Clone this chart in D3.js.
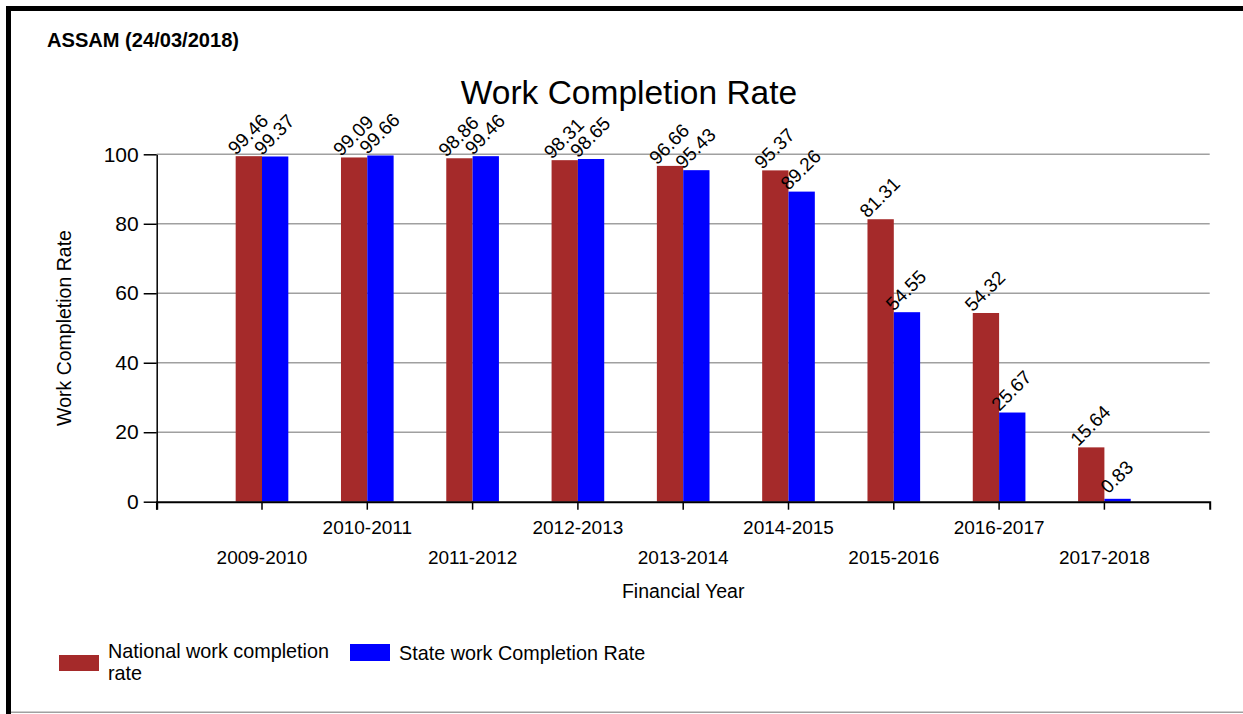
<!DOCTYPE html>
<html>
<head>
<meta charset="utf-8">
<title>Work Completion Rate</title>
<script src="https://d3js.org/d3.v7.min.js"></script>
<style>
  body { margin: 0; background: #fff; }
  svg { display: block; font-family: "Liberation Sans", Arial, sans-serif; }
</style>
</head>
<body>
<div id="chart"></div>
<script>
// data
var years = ["2009-2010", "2010-2011", "2011-2012", "2012-2013", "2013-2014",
             "2014-2015", "2015-2016", "2016-2017", "2017-2018"];
var national = [99.46, 99.09, 98.86, 98.31, 96.66, 95.37, 81.31, 54.32, 15.64];
var state = [99.37, 99.66, 99.46, 98.65, 95.43, 89.26, 54.55, 25.67, 0.83];
var yTicks = [0, 20, 40, 60, 80, 100];
var seriesNames = ["National work completion rate", "State work Completion Rate"];
var colors = ["#a52a2a", "#0000ff"];

var W = 1243, H = 714;
var margin = { left: 156.7, right: 33.3, top: 154.3, bottom: 212.3 };
var width = W - margin.left - margin.right,
    height = H - margin.top - margin.bottom;

var svg = d3.select("#chart").append("svg")
    .attr("width", W)
    .attr("height", H);

// frame: thick black top and left, thin grey bottom
svg.append("rect").attr("x", 6).attr("y", 6).attr("width", W - 6).attr("height", 5).attr("fill", "#000");
svg.append("rect").attr("x", 6).attr("y", 6).attr("width", 5).attr("height", H - 6).attr("fill", "#000");
svg.append("rect").attr("x", 11).attr("y", 711.5).attr("width", W - 11).attr("height", 1.5).attr("fill", "#a0a0a0");

svg.append("text")
    .attr("x", 47).attr("y", 47)
    .attr("font-size", 19.5).attr("font-weight", "bold")
    .attr("textLength", 192).attr("lengthAdjust", "spacingAndGlyphs")
    .text("ASSAM (24/03/2018)");

svg.append("text")
    .attr("x", 629).attr("y", 104)
    .attr("text-anchor", "middle")
    .attr("font-size", 33.5)
    .text("Work Completion Rate");

var g = svg.append("g")
    .attr("transform", "translate(" + margin.left + "," + margin.top + ")");

var x = d3.scaleBand().domain(years).range([0, width]).paddingInner(0).paddingOuter(0.5);
var y = d3.scaleLinear().domain([0, 100]).range([height, 0]);
var bw = x.step() / 4;

// gridlines
g.selectAll(".grid")
    .data(yTicks.slice(1))
    .enter().append("line")
    .attr("x1", 0).attr("x2", width)
    .attr("y1", function(d) { return y(d); })
    .attr("y2", function(d) { return y(d); })
    .attr("stroke", "#a0a0a0")
    .attr("stroke-width", 1.5);

var rows = years.map(function(yr, i) {
    return { year: yr, vals: [national[i], state[i]] };
});

var grp = g.selectAll(".cat")
    .data(rows)
    .enter().append("g")
    .attr("transform", function(d) { return "translate(" + (x(d.year) + x.bandwidth() / 2) + ",0)"; });

grp.selectAll("rect")
    .data(function(d) { return d.vals; })
    .enter().append("rect")
    .attr("x", function(d, j) { return j === 0 ? -bw : 0; })
    .attr("y", function(d) { return y(d); })
    .attr("width", bw)
    .attr("height", function(d) { return height - y(d); })
    .attr("fill", function(d, j) { return colors[j]; });

grp.selectAll(".val")
    .data(function(d) { return d.vals; })
    .enter().append("text")
    .attr("class", "val")
    .attr("font-size", 19)
    .attr("text-anchor", "middle")
    .attr("dy", "0.35em")
    .attr("transform", function(d, j) {
        var cx = j === 0 ? -bw / 2 : bw / 2;
        return "translate(" + (cx - 1) + "," + (y(d) - 22) + ") rotate(-45)";
    })
    .text(function(d) { return d.toFixed(2); });

// y axis
var yAxis = g.append("g")
    .call(d3.axisLeft(y).tickValues(yTicks).tickSize(13).tickSizeOuter(0).tickPadding(5));
yAxis.selectAll("text").attr("font-size", 21).attr("fill", "#000").attr("font-family", "Liberation Sans, Arial, sans-serif");
yAxis.selectAll("line, path").attr("stroke", "#000").attr("stroke-width", 1.5);
g.append("line")
    .attr("x1", 0).attr("x2", 0)
    .attr("y1", height).attr("y2", height + 8)
    .attr("stroke", "#000").attr("stroke-width", 1.5);

// x axis with staggered labels
var xAxis = g.append("g")
    .attr("transform", "translate(0," + height + ")")
    .call(d3.axisBottom(x).tickSize(8).tickSizeOuter(8));
xAxis.select(".domain").attr("stroke", "#000").attr("stroke-width", 2);
xAxis.selectAll("line").attr("stroke", "#000").attr("stroke-width", 1.5);
xAxis.selectAll("text")
    .attr("font-size", 19)
    .attr("fill", "#000")
    .attr("font-family", "Liberation Sans, Arial, sans-serif")
    .attr("dy", null)
    .attr("y", function(d, i) { return i % 2 === 0 ? 62.3 : 32.3; });

// axis titles
svg.append("text")
    .attr("transform", "translate(71," + (margin.top + height / 2) + ") rotate(-90)")
    .attr("text-anchor", "middle")
    .attr("font-size", 19.5)
    .text("Work Completion Rate");

svg.append("text")
    .attr("x", margin.left + width / 2).attr("y", 598)
    .attr("text-anchor", "middle")
    .attr("font-size", 19.5)
    .text("Financial Year");

// legend
svg.append("rect").attr("x", 59).attr("y", 655).attr("width", 40).attr("height", 16).attr("fill", colors[0]);
svg.append("text").attr("x", 108).attr("y", 658).attr("font-size", 19.8).text("National work completion");
svg.append("text").attr("x", 108).attr("y", 680).attr("font-size", 19.8).text("rate");
svg.append("rect").attr("x", 350).attr("y", 644).attr("width", 40).attr("height", 17).attr("fill", colors[1]);
svg.append("text").attr("x", 399).attr("y", 660).attr("font-size", 19.8).text(seriesNames[1]);
</script>
</body>
</html>
